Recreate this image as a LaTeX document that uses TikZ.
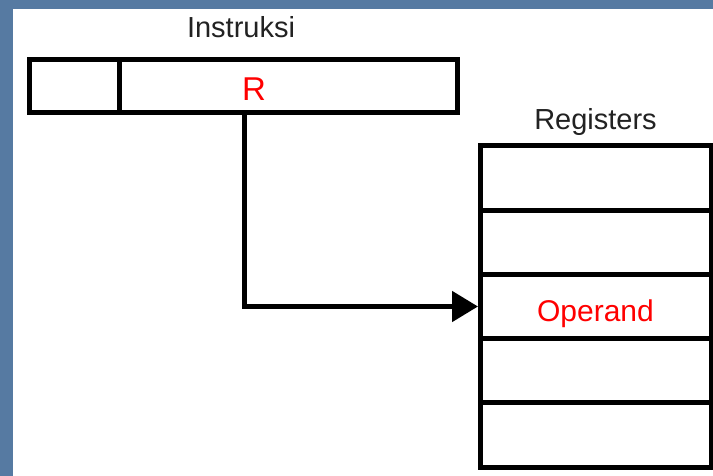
\documentclass[tikz,border=0pt]{standalone}
\usepackage{fontspec}
\setmainfont{Liberation Sans}
\usetikzlibrary{positioning, arrows.meta}

\definecolor{slideblue}{RGB}{86,122,162}
\definecolor{txtgrey}{RGB}{34,34,34}

\tikzset{
    cell/.style={draw, rectangle, line width=5pt, outer sep=0pt, inner sep=0pt},
    regcell/.style={cell, minimum width=231pt, minimum height=64.2pt},
    caption/.style={text=txtgrey, font=\fontsize{29}{35}\selectfont, inner sep=0pt, anchor=base},
    wire/.style={line width=5pt, line join=miter, -{Triangle[length=26pt, width=30pt]}, shorten >=2pt}
}

\begin{document}
\begin{tikzpicture}[x=1pt, y=-1pt]
                    \fill[slideblue] (0,0) rectangle (713,476);
                    \fill[white] (13,9) rectangle (713,476);
                    \useasboundingbox (0,0) rectangle (713,476);

                    % instruction word
                    \node[cell, minimum width=90pt, minimum height=53pt] (field) at (74,86.5) {};
                    \node[cell, minimum width=338pt, minimum height=53pt] (addr) [right=0pt of field] {};
                    \node[caption] (instr) at (241,37.5) {Instruksi};
                    \node[caption, text=red, font=\fontsize{33}{40}\selectfont] (rlabel) at (254,100.5) {R};

                    % register file
                    \node[regcell] (reg1) at (595.5,178.1) {};
                    \node[regcell] (reg2) [below=0pt of reg1] {};
                    \node[regcell] (reg3) [below=0pt of reg2] {};
                    \node[regcell] (reg4) [below=0pt of reg3] {};
                    \node[regcell] (reg5) [below=0pt of reg4] {};
                    \node[caption] (regs) at ([yshift=16.5pt]reg1.north) {Registers};
                    \node[caption, text=red, font=\fontsize{30}{36}\selectfont] (opd) at ([yshift=-15pt]reg3.center) {Operand};

                    \coordinate (src) at (244,113);
                    \draw[wire] (src) |- (reg3.west);
\end{tikzpicture}
\end{document}
